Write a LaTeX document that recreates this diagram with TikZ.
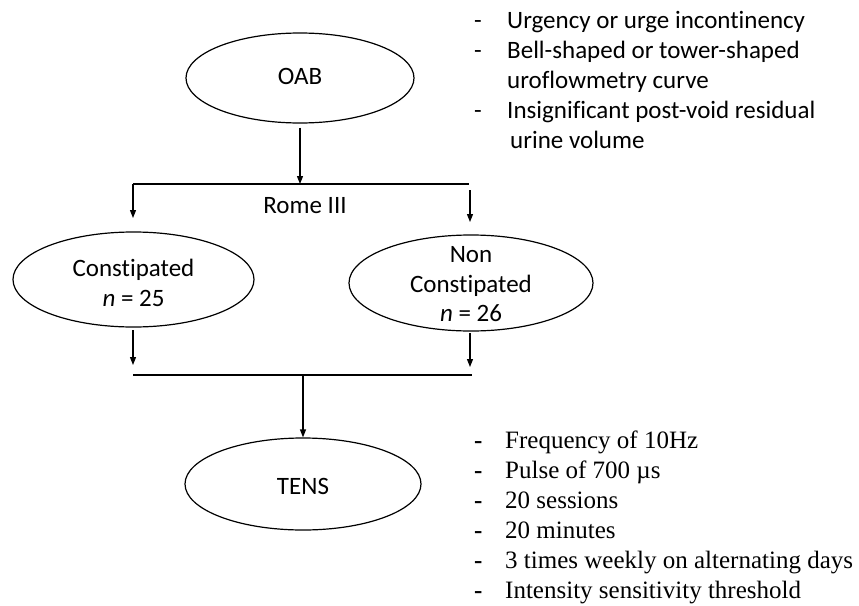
\documentclass[tikz,border=0pt]{standalone}
\usepackage{fontspec}
\setmainfont[Ligatures=NoCommon]{Carlito}
\newfontfamily\tnr{Liberation Serif}
\usetikzlibrary{shapes.geometric,arrows.meta}
\begin{document}
\begin{tikzpicture}[x=1pt,y=-1pt,
  every node/.style={font=\fontsize{25}{30}\selectfont},
  oval/.style={draw,ellipse,line width=1.2pt,inner sep=0pt},
  conn/.style={line width=1.2pt},
  arr/.style={conn,-{Triangle[length=8pt,width=6pt]}},
  lst/.style={anchor=base west,inner sep=0pt},
  tlst/.style={anchor=base west,inner sep=0pt,font=\tnr\fontsize{25}{30}\selectfont}]
\useasboundingbox (0,0) rectangle (859,605);
% ellipses
\node[oval,minimum width=228pt,minimum height=90pt] (oab) at (300,78) {};
\node[anchor=base] (oabt) at (300,84) {OAB};
\node[oval,minimum width=241pt,minimum height=95pt] (con) at (133.5,279.5) {};
\node[anchor=base] (con1) at (133.5,276) {Constipated};
\node[anchor=base] (con2) at (133.5,306) {\textit{n} = 25};
\node[oval,minimum width=244pt,minimum height=96pt] (non) at (471,283) {};
\node[anchor=base] (non1) at (471,262) {Non};
\node[anchor=base] (non2) at (471,292) {Constipated};
\node[anchor=base] (non3) at (471,321) {\textit{n} = 26};
\node[oval,minimum width=236pt,minimum height=92pt] (tens) at (303,484) {};
\node[anchor=base] (tenst) at (303,494) {TENS};
\node[anchor=base] (rome) at (305,213) {Rome III};
% connectors
\coordinate (split) at (300,184);
\coordinate (sl) at (133,184);
\coordinate (sr) at (469,184);
\coordinate (lt) at (133,218);
\coordinate (rs) at (470,190);
\coordinate (rt) at (470,222);
\draw[arr] (oab.south) ++(0,4) -- (split);
\draw[conn] (sl) -- (sr);
\draw[arr] (sl) -- (lt);
\draw[arr] (rs) -- (rt);
\coordinate (lb) at (133,330);
\coordinate (lbe) at (133,365);
\coordinate (rb) at (470,333);
\coordinate (rbe) at (470,367);
\draw[arr] (lb) -- (lbe);
\draw[arr] (rb) -- (rbe);
\coordinate (jl) at (133,375);
\coordinate (jr) at (472,375);
\coordinate (jm) at (303,376);
\draw[conn] (jl) -- (jr);
\draw[arr] (jm) -- (tens.north);
% top list
\node[lst] (d1) at (474,28) {-};
\node[lst] (t1) at (507,28) {Urgency or urge incontinency};
\node[lst] (d2) at (474,58) {-};
\node[lst] (t2) at (507,58) {Bell-shaped or tower-shaped};
\node[lst] (t3) at (507,88) {uroflowmetry curve};
\node[lst] (d4) at (474,118) {-};
\node[lst] (t4) at (507,118) {Insignificant post-void residual};
\node[lst] (t5) at (510,148) {urine volume};
% bottom list
\node[tlst] (b1d) at (474,448) {\textbf{-}};
\node[tlst] (b1) at (505,448) {Frequency of 10Hz};
\node[tlst] (b2d) at (474,478) {\textbf{-}};
\node[tlst] (b2) at (505,478) {Pulse of 700 µs};
\node[tlst] (b3d) at (474,508) {\textbf{-}};
\node[tlst] (b3) at (505,508) {20 sessions};
\node[tlst] (b4d) at (474,538) {\textbf{-}};
\node[tlst] (b4) at (505,538) {20 minutes};
\node[tlst] (b5d) at (474,568) {\textbf{-}};
\node[tlst] (b5) at (505,568) {3 times weekly on alternating days};
\node[tlst] (b6d) at (474,598) {\textbf{-}};
\node[tlst] (b6) at (505,598) {Intensity sensitivity threshold};
\end{tikzpicture}
\end{document}
